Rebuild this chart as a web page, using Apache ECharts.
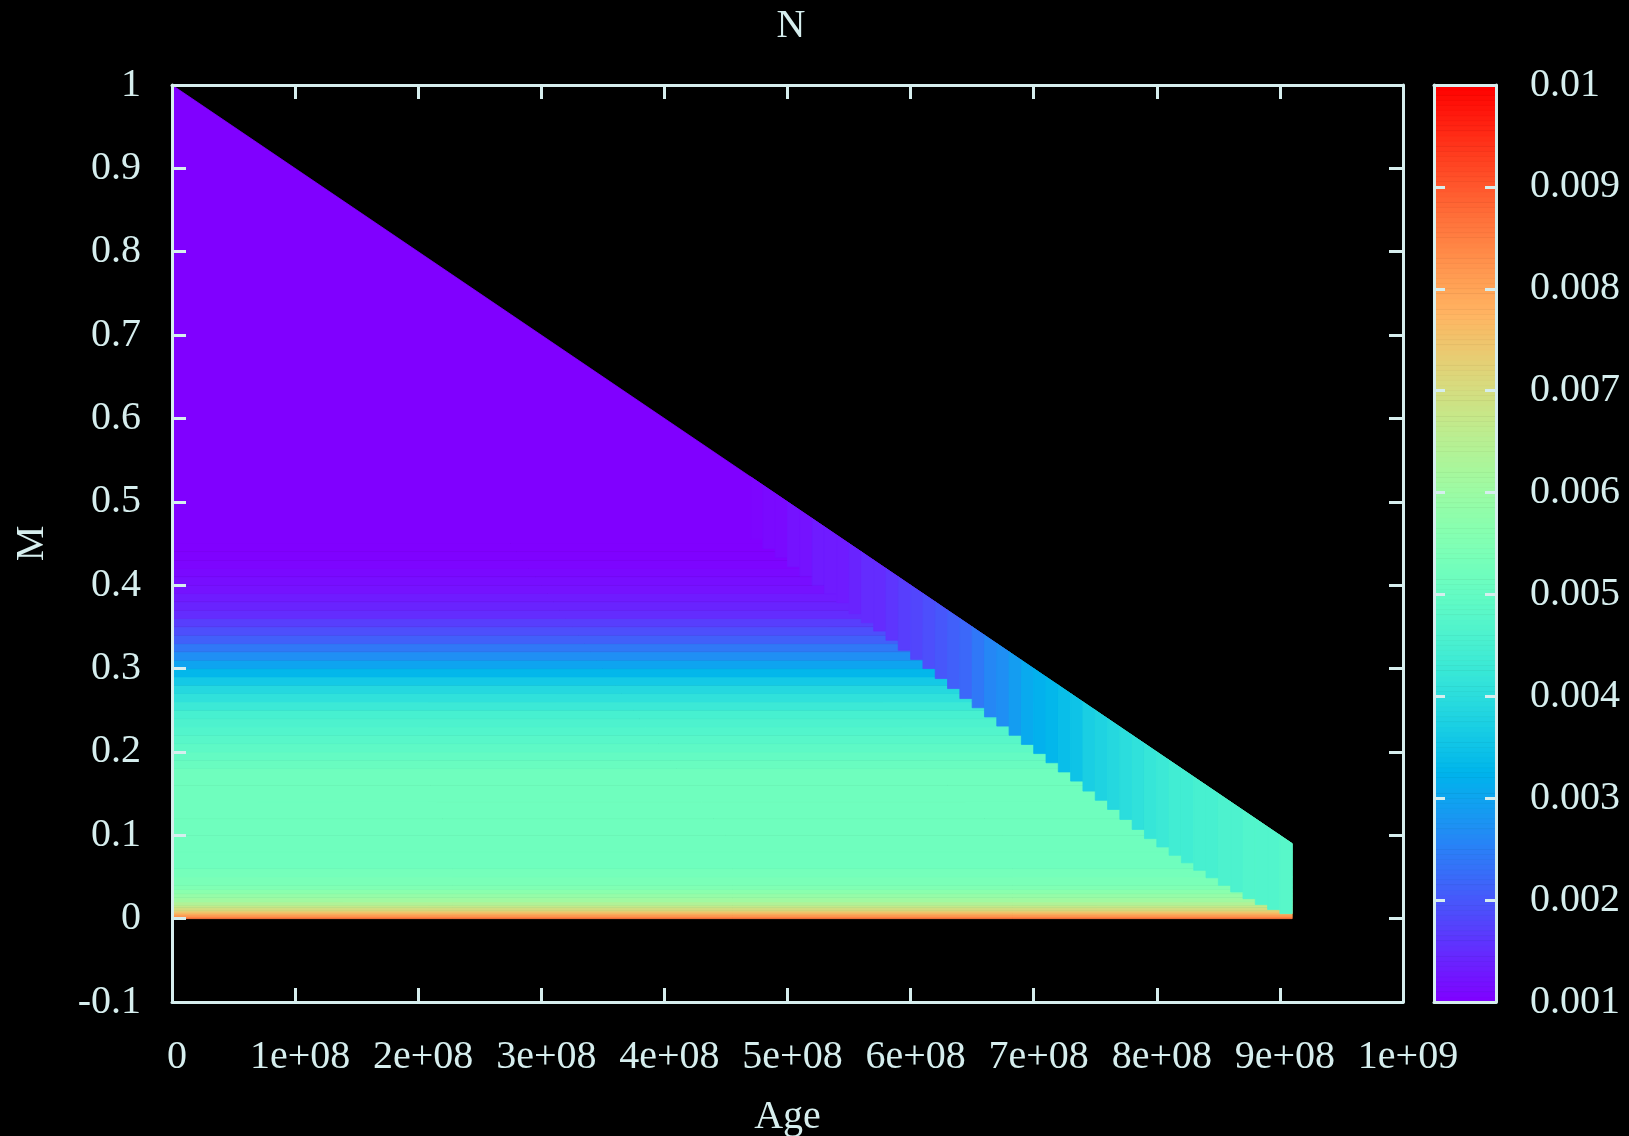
<!DOCTYPE html>
<html>
<head>
<meta charset="utf-8">
<title>N over Age and M</title>
<script src="https://cdn.jsdelivr.net/npm/echarts@6/dist/echarts.min.js"></script>
<style>
  html, body { margin: 0; padding: 0; background: #000; }
  #chart { width: 1629px; height: 1136px; }
</style>
</head>
<body>
<div id="chart"></div>
<script>
// ---------------- data ----------------
// Axis ranges and tick steps
const ageAxis = [0, 1e9], ageStep = 1e8;
const massAxis = [-0.1, 1], massStep = 0.1;
const nAxis = [0.001, 0.01], nStep = 0.001;

// Computed domain: age span, and mass on its upper edge at each end of that span
const domainAge = [0, 9.1e8];
const upperEdgeMass = [1.0, 0.09];

// Main region: mass band edges and N inside each band
const massEdges = [
  0, 0.002, 0.004, 0.006, 0.008, 0.010, 0.013, 0.016, 0.020, 0.025,
  0.030, 0.035, 0.040, 0.050, 0.060, 0.080, 0.100, 0.120, 0.140, 0.160,
  0.180, 0.190, 0.200, 0.210, 0.220, 0.230, 0.240, 0.250, 0.260, 0.270,
  0.280, 0.290, 0.300, 0.310, 0.320, 0.330, 0.340, 0.350, 0.360, 0.370,
  0.380, 0.390, 0.400, 0.410, 0.420, 0.430, 0.440, 0.450, 1.000
];
const nMain = [
  0.0086, 0.0082, 0.0079, 0.0076, 0.0073, 0.0070, 0.0067, 0.0064, 0.0061, 0.0059,
  0.0057, 0.0055, 0.0054, 0.0053, 0.0052, 0.0052, 0.0052, 0.0052, 0.0052, 0.0052,
  0.0051, 0.0050, 0.0049, 0.0048, 0.0047, 0.0046, 0.0045, 0.0043, 0.0041, 0.0039,
  0.0036, 0.0033, 0.0030, 0.0027, 0.0024, 0.0021, 0.0019, 0.0017, 0.0015, 0.0014,
  0.0013, 0.0012, 0.00115, 0.0011, 0.00105, 0.00102, 0.0010, 0.0010
];

// Upper strip along the edge: column start ages, lower mass bound and N per column
const stripAgeStart = [
  4.7e8, 4.8e8, 4.9e8, 5.0e8, 5.1e8, 5.2e8, 5.3e8, 5.4e8, 5.5e8, 5.6e8, 5.7e8,
  5.8e8, 5.9e8, 6.0e8, 6.1e8, 6.2e8, 6.3e8, 6.4e8, 6.5e8, 6.6e8, 6.7e8, 6.8e8,
  6.9e8, 7.0e8, 7.1e8, 7.2e8, 7.3e8, 7.4e8, 7.5e8, 7.6e8, 7.7e8, 7.8e8, 7.9e8,
  8.0e8, 8.1e8, 8.2e8, 8.3e8, 8.4e8, 8.5e8, 8.6e8, 8.7e8, 8.8e8, 8.9e8, 9.0e8
];
const stripAgeWidth = 1e7;
const stripLowMass = [
  0.455, 0.444, 0.433, 0.422, 0.411, 0.400, 0.390, 0.379, 0.366, 0.355, 0.345,
  0.334, 0.322, 0.311, 0.300, 0.288, 0.276, 0.264, 0.253, 0.242, 0.231, 0.220,
  0.209, 0.198, 0.187, 0.176, 0.165, 0.153, 0.142, 0.131, 0.119, 0.107, 0.096,
  0.086, 0.076, 0.067, 0.058, 0.049, 0.040, 0.032, 0.024, 0.017, 0.011, 0.006
];
const stripN = [
  0.00105, 0.0011, 0.0011, 0.0012, 0.0012, 0.0013, 0.0013, 0.0013, 0.0014, 0.0015, 0.0015,
  0.0016, 0.0017, 0.0018, 0.0019, 0.0020, 0.0021, 0.0022, 0.0024, 0.0026, 0.0027, 0.0029,
  0.0031, 0.0032, 0.0033, 0.0034, 0.0035, 0.0037, 0.0038, 0.0039, 0.0040, 0.0041, 0.0042,
  0.0043, 0.0044, 0.0044, 0.0045, 0.0045, 0.0046, 0.0046, 0.0047, 0.0047, 0.0047, 0.0048
];

// ---------------- styling helpers ----------------
const FONT = '"Liberation Serif", "DejaVu Serif", serif';
const FG = '#d6eeee';
const FS = 40;

// gnuplot "rgbformulae 33,13,10" rainbow palette
function rainbow(x) {
  const c = v => Math.round(Math.max(0, Math.min(1, v)) * 255).toString(16).padStart(2, '0');
  return '#' + c(Math.abs(2 * x - 0.5)) + c(Math.sin(Math.PI * x)) + c(Math.cos(Math.PI * x / 2));
}
const paletteStops = [];
for (let i = 0; i <= 64; i++) paletteStops.push(rainbow(i / 64));

// upper boundary of the domain (straight edge between its two end points)
function upperMass(age) {
  const t = (age - domainAge[0]) / (domainAge[1] - domainAge[0]);
  return upperEdgeMass[0] + (upperEdgeMass[1] - upperEdgeMass[0]) * t;
}
// clip a polygon (in data units) to the part below the upper boundary
function clipBelowEdge(pts) {
  const f = p => p[1] - upperMass(p[0]);
  const out = [];
  for (let i = 0; i < pts.length; i++) {
    const p = pts[i], q = pts[(i + 1) % pts.length];
    const fp = f(p), fq = f(q);
    if (fp <= 0) out.push(p);
    if ((fp <= 0) !== (fq <= 0)) {
      const t = fp / (fp - fq);
      out.push([p[0] + t * (q[0] - p[0]), p[1] + t * (q[1] - p[1])]);
    }
  }
  return out;
}
function polyItem(api, rect) {
  const pts = clipBelowEdge(rect);
  if (pts.length < 3) return null;
  const color = api.visual('color');
  return {
    type: 'polygon',
    shape: { points: pts.map(p => api.coord(p)) },
    style: { fill: color, stroke: color, lineWidth: 0.8 }
  };
}

// ---------------- series data ----------------
const mainRows = nMain.map((n, i) => [n, massEdges[i], massEdges[i + 1]]);
const stripCols = stripN.map((n, i) => [n, stripAgeStart[i], stripAgeStart[i] + stripAgeWidth, stripLowMass[i]]);
const barSteps = [];
const barCount = 180;
for (let i = 0; i < barCount; i++) {
  const lo = nAxis[0] + (nAxis[1] - nAxis[0]) * i / barCount;
  const hi = nAxis[0] + (nAxis[1] - nAxis[0]) * (i + 1) / barCount;
  barSteps.push([(lo + hi) / 2, lo, hi]);
}

// ---------------- formatters ----------------
function sciLabel(v) {
  if (v === 0) return '0';
  const e = Math.floor(Math.log10(Math.abs(v)) + 1e-9);
  const m = Math.round(v / Math.pow(10, e) * 1000) / 1000;
  return m + 'e' + (e < 0 ? '-' : '+') + String(Math.abs(e)).padStart(2, '0');
}
const plainLabel = d => v => String(+v.toFixed(d));

const lineStyle = { color: FG, width: 3 };
const labelStyle = { color: FG, fontSize: FS, fontFamily: FONT };

function frameAxis(extra) {
  return Object.assign({
    type: 'value',
    z: 10,
    splitLine: { show: false },
    axisLine: { show: true, onZero: false, lineStyle },
    axisTick: { show: true, inside: true, length: 14, lineStyle },
    axisLabel: { show: false }
  }, extra);
}

const chart = echarts.init(document.getElementById('chart'));
chart.setOption({
  backgroundColor: '#000',
  animation: false,
  title: {
    text: 'N', left: 786, top: 1, textAlign: 'center',
    textStyle: { color: FG, fontSize: FS, fontWeight: 'normal', fontFamily: FONT }
  },
  grid: [
    { left: 172, top: 85, width: 1231, height: 917, outerBoundsMode: 'none', containLabel: false },
    { left: 1434, top: 85, width: 62, height: 917, outerBoundsMode: 'none', containLabel: false }
  ],
  xAxis: [
    frameAxis({
      gridIndex: 0, position: 'bottom', min: ageAxis[0], max: ageAxis[1], interval: ageStep,
      axisLabel: Object.assign({ show: true, margin: 35, padding: [0, 0, 0, 10], formatter: sciLabel }, labelStyle),
      name: 'Age', nameLocation: 'middle', nameGap: 95, nameTextStyle: labelStyle
    }),
    frameAxis({ gridIndex: 0, position: 'top', min: ageAxis[0], max: ageAxis[1], interval: ageStep }),
    frameAxis({ gridIndex: 1, position: 'bottom', min: 0, max: 1, axisTick: { show: false } }),
    frameAxis({ gridIndex: 1, position: 'top', min: 0, max: 1, axisTick: { show: false } })
  ],
  yAxis: [
    frameAxis({
      gridIndex: 0, position: 'left', min: massAxis[0], max: massAxis[1], interval: massStep,
      axisLabel: Object.assign({ show: true, margin: 31, formatter: plainLabel(3) }, labelStyle),
      name: 'M', nameLocation: 'middle', nameGap: 120, nameTextStyle: labelStyle
    }),
    frameAxis({ gridIndex: 0, position: 'right', min: massAxis[0], max: massAxis[1], interval: massStep }),
    frameAxis({
      gridIndex: 1, position: 'left', min: nAxis[0], max: nAxis[1], interval: nStep,
      axisTick: { show: true, inside: true, length: 11, lineStyle }
    }),
    frameAxis({
      gridIndex: 1, position: 'right', min: nAxis[0], max: nAxis[1], interval: nStep,
      axisTick: { show: true, inside: true, length: 11, lineStyle },
      axisLabel: Object.assign({ show: true, margin: 34, formatter: plainLabel(4) }, labelStyle)
    })
  ],
  visualMap: {
    show: false, type: 'continuous', min: nAxis[0], max: nAxis[1],
    dimension: 0, seriesIndex: [0, 1, 2],
    inRange: { color: paletteStops }
  },
  series: [
    {
      type: 'custom', name: 'N', xAxisIndex: 0, yAxisIndex: 0, z: 2,
      data: mainRows,
      renderItem: (params, api) => polyItem(api, [
        [domainAge[0], api.value(1)], [domainAge[1], api.value(1)],
        [domainAge[1], api.value(2)], [domainAge[0], api.value(2)]
      ])
    },
    {
      type: 'custom', name: 'N (upper strip)', xAxisIndex: 0, yAxisIndex: 0, z: 3,
      data: stripCols,
      renderItem: (params, api) => polyItem(api, [
        [api.value(1), api.value(3)], [api.value(2), api.value(3)],
        [api.value(2), upperEdgeMass[0]], [api.value(1), upperEdgeMass[0]]
      ])
    },
    {
      type: 'custom', name: 'palette', xAxisIndex: 2, yAxisIndex: 2, z: 2,
      data: barSteps,
      renderItem: (params, api) => {
        const p0 = api.coord([0, api.value(1)]);
        const p1 = api.coord([1, api.value(2)]);
        const color = api.visual('color');
        return {
          type: 'rect',
          shape: { x: p0[0], y: p1[1], width: p1[0] - p0[0], height: p0[1] - p1[1] },
          style: { fill: color, stroke: color, lineWidth: 0.8 }
        };
      }
    }
  ]
});
</script>
</body>
</html>
